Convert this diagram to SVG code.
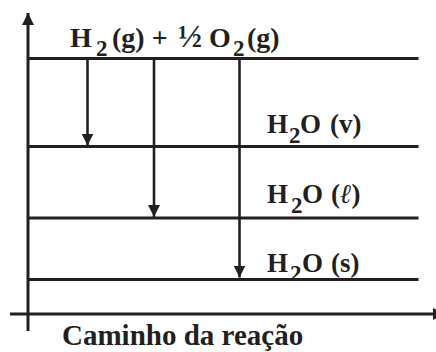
<svg xmlns="http://www.w3.org/2000/svg" width="436" height="352" viewBox="0 0 436 352">
<style>
.ln{stroke:#231f20;stroke-width:3;fill:none}
.ar{stroke:#231f20;stroke-width:2.6;fill:none;marker-end:url(#ah)}
.ax{stroke:#231f20;stroke-width:3;fill:none;marker-end:url(#ah)}
text{font-family:"Liberation Serif","Times New Roman",serif;font-weight:bold;fill:#231f20}
.lb{font-size:27px}
.sub{font-size:23px}
</style>
<defs>
<marker id="ah" viewBox="0 0 12 12" markerWidth="12" markerHeight="12" markerUnits="userSpaceOnUse" refX="12" refY="6" orient="auto">
<path d="M0,0 L12,6 L0,12 z" fill="#231f20"/>
</marker>
</defs>
<g id="axes">
<line class="ax" x1="28" y1="331" x2="28" y2="13"/>
<line class="ax" x1="10" y1="314" x2="445" y2="314"/>
<text x="62" y="345" style="font-size:29px">Caminho da reação</text>
</g>
<g id="level-reagentes">
<line class="ln" x1="28" y1="58.5" x2="418.5" y2="58.5"/>
<text style="font-size:28px"><tspan x="70" y="46.5">H</tspan><tspan x="96" y="56" class="sub">2</tspan><tspan x="112" y="46.5">(g) +</tspan><tspan x="178" y="46.5" style="font-size:32px">½</tspan><tspan x="209" y="46.5">O</tspan><tspan x="233" y="56" class="sub">2</tspan><tspan x="247" y="46.5">(g)</tspan></text>
</g>
<g id="level-vapor">
<line class="ln" x1="28" y1="146.5" x2="418.5" y2="146.5"/>
<text class="lb"><tspan x="267" y="132.5">H</tspan><tspan x="289" y="142.5" class="sub">2</tspan><tspan x="300" y="132.5">O</tspan><tspan x="330" y="132.5">(v)</tspan></text>
</g>
<g id="level-liquido">
<line class="ln" x1="28" y1="218" x2="418.5" y2="218"/>
<text class="lb"><tspan x="267" y="202.5">H</tspan><tspan x="291" y="212.5" class="sub">2</tspan><tspan x="302" y="202.5">O</tspan><tspan x="331" y="202.5">(</tspan><tspan style="font-style:italic">ℓ</tspan><tspan>)</tspan></text>
</g>
<g id="level-solido">
<line class="ln" x1="28" y1="279.5" x2="418.5" y2="279.5"/>
<text class="lb"><tspan x="267" y="271.5">H</tspan><tspan x="290" y="281" class="sub">2</tspan><tspan x="302" y="271.5">O</tspan><tspan x="331" y="271.5">(s)</tspan></text>
</g>
<g id="connectors">
<line class="ar" x1="87.5" y1="58.5" x2="87.5" y2="145.5"/>
<line class="ar" x1="154" y1="58.5" x2="154" y2="217"/>
<line class="ar" x1="239.5" y1="58.5" x2="239.5" y2="277.5"/>
</g>
</svg>
